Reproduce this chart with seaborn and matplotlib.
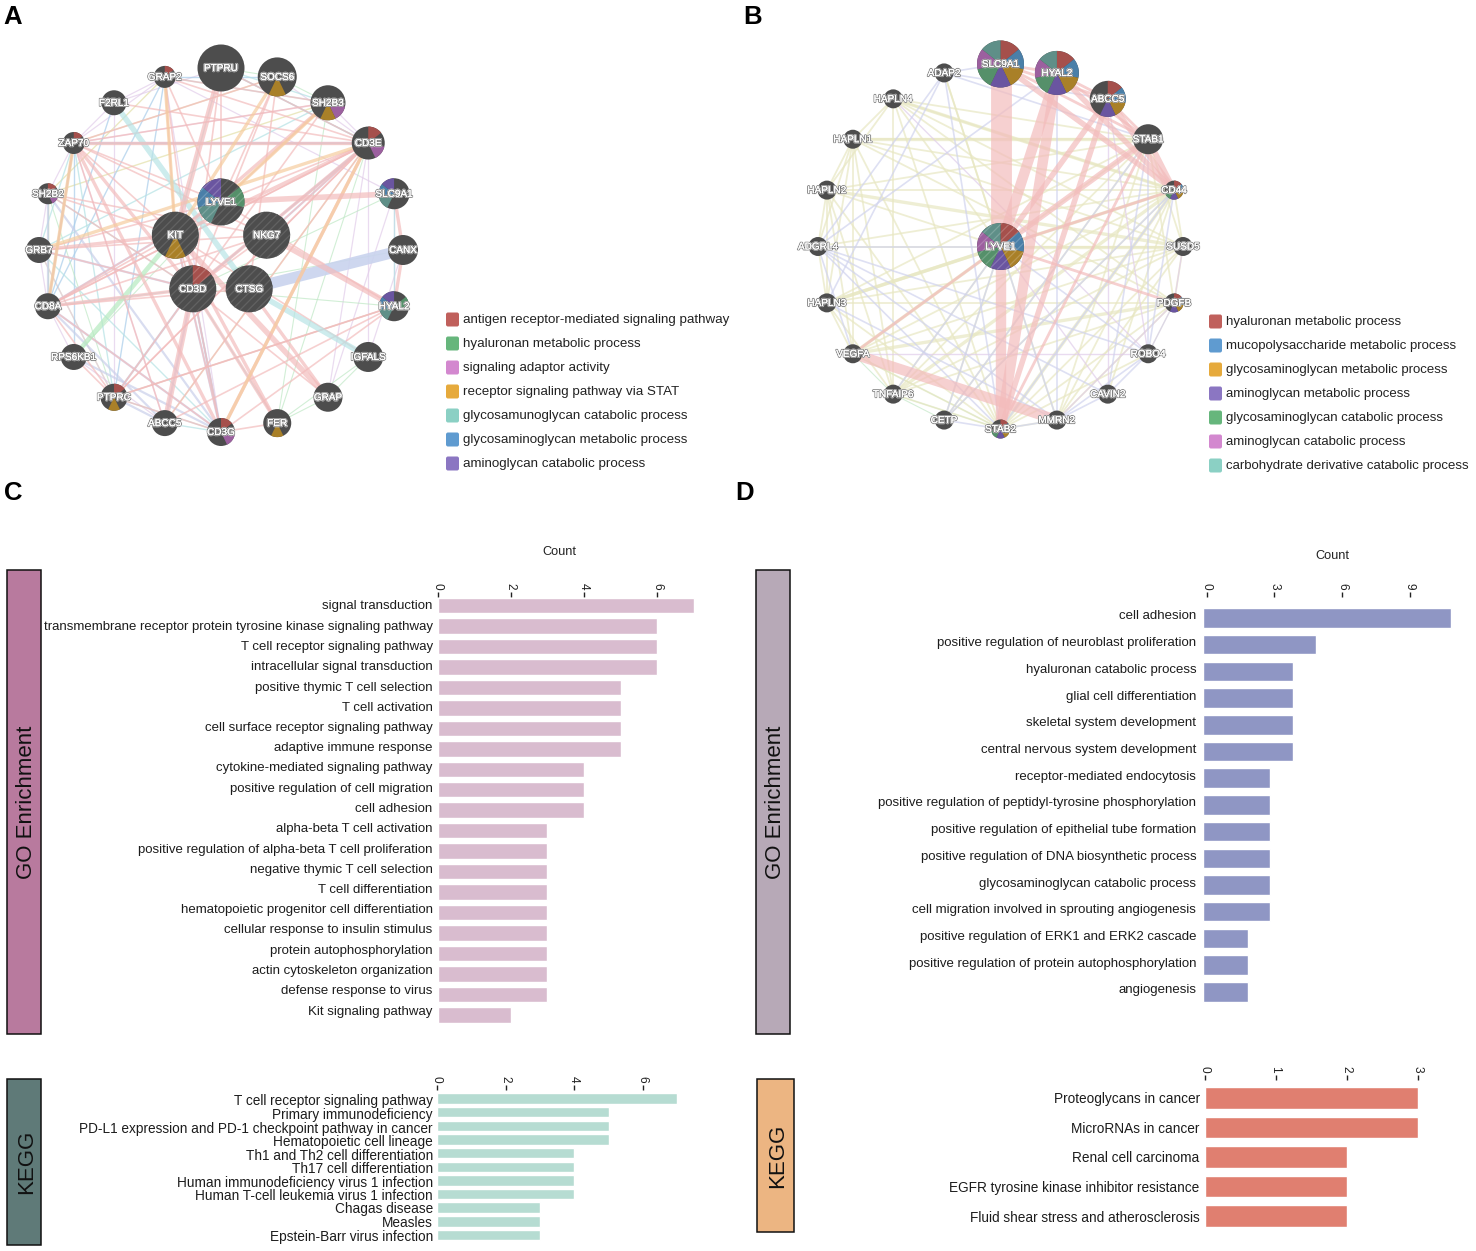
import numpy as np
import matplotlib
matplotlib.use('Agg')
import matplotlib.pyplot as plt
import matplotlib.patheffects as pe
from matplotlib.patches import Circle, Wedge, Rectangle, FancyBboxPatch
import seaborn as sns

W, H = 1476, 1251

# ---------- panel A network ----------
ring_a = ['PTPRU', 'SOCS6', 'SH2B3', 'CD3E', 'SLC9A1', 'CANX', 'HYAL2', 'IGFALS', 'GRAP', 'FER',
          'CD3G', 'ABCC5', 'PTPRC', 'RPS6KB1', 'CD8A', 'GRB7', 'SH2B2', 'ZAP70', 'F2RL1', 'GRAP2']
ring_a_size = [23.5, 19.5, 17.5, 16.5, 15.5, 15, 15, 15, 14.5, 14, 14, 13, 13.5, 13, 13, 13, 10.5, 11, 12.5, 11]
core_a = ['LYVE1', 'NKG7', 'CTSG', 'CD3D', 'KIT']
terms_a = ['antigen receptor-mediated signaling pathway', 'hyaluronan metabolic process',
           'signaling adaptor activity', 'receptor signaling pathway via STAT',
           'glycosamunoglycan catabolic process', 'glycosaminoglycan metabolic process',
           'aminoglycan catabolic process']
# which term slots each gene belongs to
slots_a = {'SOCS6': [3], 'SH2B3': [2, 3], 'CD3E': [0, 2], 'SLC9A1': [4, 5, 6], 'HYAL2': [1, 4, 5, 6],
           'CD3G': [0, 2], 'PTPRC': [0, 3], 'SH2B2': [0, 2], 'ZAP70': [0], 'GRAP2': [0], 'FER': [3],
           'LYVE1': [1, 4, 5, 6], 'CD3D': [0], 'KIT': [3]}
pink_a_thick = 'SLC9A1-LYVE1 NKG7-HYAL2 PTPRU-KIT CD3D-ABCC5 KIT-GRAP'
pink_a_mid = ('SLC9A1-CANX CANX-HYAL2 SH2B3-KIT CD3E-KIT CD3E-CD3D ZAP70-CD3E ZAP70-CD3G ZAP70-CD3D GRB7-KIT '
              'KIT-FER CTSG-GRAP CD3E-CD3G CD8A-CD3D CD3D-FER')
pink_a_thin = ('CD8A-CD3E SH2B2-KIT PTPRC-HYAL2 ABCC5-HYAL2 ZAP70-KIT SH2B2-CD3D GRAP2-CD3D PTPRC-CD3G '
               'CD8A-KIT CD8A-LYVE1 CD8A-NKG7 RPS6KB1-PTPRC CD8A-CD3G PTPRU-LYVE1 SOCS6-LYVE1 SH2B3-LYVE1 '
               'SH2B3-CD3D CD3E-LYVE1 CD3E-NKG7 CD3E-PTPRC CD3E-ABCC5 ZAP70-SH2B3 ZAP70-CD8A GRAP2-CD3E '
               'GRAP2-KIT F2RL1-CD3E CD8A-PTPRC PTPRC-CD3D CD3D-GRAP LYVE1-KIT KIT-CD3D NKG7-CD3D HYAL2-CD3G '
               'ZAP70-SOCS6 ZAP70-NKG7 ZAP70-ABCC5 ZAP70-LYVE1 SH2B2-NKG7 GRB7-LYVE1 GRB7-NKG7 GRB7-CD3D '
               'GRAP2-LYVE1 GRAP2-SH2B3 PTPRU-CD3D PTPRU-CD3E SOCS6-CD3D SOCS6-CTSG CD3E-CD8A CD3E-PTPRC '
               'CD8A-CTSG CD3G-KIT CD3G-CD3D IGFALS-KIT HYAL2-LYVE1 HYAL2-PTPRC FER-CD3G')
orange_a = 'SOCS6-KIT GRAP2-KIT CD3E-CD3G SH2B3-LYVE1 ZAP70-CD8A GRB7-CD3E'
teal_a_thick = 'F2RL1-CTSG CTSG-IGFALS'
teal_a_thin = ('GRB7-SH2B3 ZAP70-CD3E PTPRU-CD3E SH2B3-GRAP2 PTPRC-CD3G ABCC5-CD3G CD8A-CD3D ZAP70-PTPRC '
               'SH2B2-CD3D CD3D-FER GRB7-CD3G CD3E-CD3D PTPRU-KIT SLC9A1-HYAL2 PTPRU-SH2B3 ZAP70-GRB7')
lav_a_thick = 'CANX-CTSG'
lav_a_thin = ('ZAP70-CD3E CD8A-CD3G ABCC5-CD3D PTPRC-CD3D CD3D-CD3G KIT-CD3G ZAP70-CD8A SH2B2-CD3G '
              'GRB7-CD3D SH2B2-CD8A NKG7-CD3E PTPRC-ABCC5 CD8A-ABCC5 LYVE1-CD8A RPS6KB1-CD3G CD3D-CD3E')
green_a_thick = 'KIT-RPS6KB1'
green_a_thin = ('PTPRC-HYAL2 SLC9A1-CD3D FER-IGFALS HYAL2-CD3D ZAP70-CD8A SH2B2-PTPRC SOCS6-SH2B3 PTPRU-SOCS6 '
                'CD3E-FER FER-GRAP GRAP-IGFALS SH2B3-FER CD8A-SH2B2 RPS6KB1-LYVE1 CANX-CD3D')
purple_a = ('ZAP70-ABCC5 SH2B2-ZAP70 F2RL1-ZAP70 GRAP2-F2RL1 GRAP2-ZAP70 SH2B2-GRB7 GRB7-CD8A CD8A-RPS6KB1 '
            'RPS6KB1-ABCC5 IGFALS-CD3E GRAP-SLC9A1 CANX-IGFALS SOCS6-CD3E ZAP70-SH2B3 GRAP2-SLC9A1 SH2B3-CD3E '
            'CD3G-GRAP2 PTPRC-F2RL1 HYAL2-SLC9A1 F2RL1-PTPRU GRAP-CD3E GRB7-PTPRC')
blue_a = 'GRAP2-PTPRC ZAP70-RPS6KB1 GRAP2-CD8A F2RL1-CD8A SOCS6-GRAP2 PTPRU-CD3E CD3D-CD3G'
khaki_a = 'GRAP2-SH2B2 SH2B3-SH2B2 ZAP70-CD3E SOCS6-ZAP70 GRB7-PTPRC SH2B2-CD8A CD3D-CD3G CD3D-PTPRC ABCC5-CD3E'

# ---------- panel B network ----------
ring_b = ['SLC9A1', 'HYAL2', 'ABCC5', 'STAB1', 'CD44', 'SUSD5', 'PDGFB', 'ROBO4', 'CAVIN2', 'MMRN2',
          'STAB2', 'CETP', 'TNFAIP6', 'VEGFA', 'HAPLN3', 'ADGRL4', 'HAPLN2', 'HAPLN1', 'HAPLN4', 'ADAP2']
ring_b_size = [23.5, 22, 18, 15, 9.5, 9.5, 9.5, 9.5, 9.5, 9.5, 9.5, 9.5, 9.5, 9.5, 9.5, 9.5, 9.5, 9.5, 9.5, 9.5]
terms_b = ['hyaluronan metabolic process', 'mucopolysaccharide metabolic process',
           'glycosaminoglycan metabolic process', 'aminoglycan metabolic process',
           'glycosaminoglycan catabolic process', 'aminoglycan catabolic process',
           'carbohydrate derivative catabolic process']
slots_b = {'SLC9A1': [0, 1, 2, 3, 4, 5, 6], 'HYAL2': [0, 1, 2, 3, 4, 5, 6], 'ABCC5': [0, 1, 2, 3],
           'LYVE1': [0, 1, 2, 3, 4, 5, 6], 'CD44': [0, 1, 2, 3, 4], 'PDGFB': [0, 1, 2, 3], 'STAB2': [0, 1, 2, 3, 4]}
pink_b_widest = 'SLC9A1-LYVE1'
pink_b_thick = 'LYVE1-STAB2 HYAL2-LYVE1 HYAL2-STAB2 VEGFA-MMRN2'
pink_b_mid = ('ABCC5-LYVE1 ABCC5-STAB2 STAB1-LYVE1 SLC9A1-CD44 HYAL2-CD44 ABCC5-CD44 '
              'STAB1-CD44')
pink_b_thin = ('STAB1-STAB2 HYAL2-STAB1 SLC9A1-HYAL2 HYAL2-ABCC5 LYVE1-PDGFB VEGFA-LYVE1 ABCC5-STAB1 '
               'SLC9A1-ABCC5 SLC9A1-STAB1 LYVE1-CD44')
khaki_b_mid = ('HAPLN3-LYVE1 HAPLN2-SUSD5 LYVE1-SUSD5 CD44-STAB2 VEGFA-PDGFB TNFAIP6-CD44 HAPLN1-STAB1 '
               'LYVE1-VEGFA HAPLN3-CD44 HAPLN4-CD44')
khaki_b_thin = ('HAPLN4-HAPLN1 HAPLN4-HAPLN2 HAPLN4-SUSD5 HAPLN4-PDGFB HAPLN4-STAB2 HAPLN4-TNFAIP6 HAPLN4-CD44 '
                'HAPLN4-LYVE1 HAPLN1-HAPLN2 HAPLN1-HAPLN3 HAPLN1-CD44 HAPLN1-SUSD5 HAPLN1-STAB2 HAPLN1-TNFAIP6 '
                'HAPLN1-ADGRL4 HAPLN1-PDGFB HAPLN1-VEGFA HAPLN2-HAPLN3 HAPLN2-CD44 HAPLN2-STAB1 HAPLN2-STAB2 '
                'HAPLN2-ADGRL4 HAPLN2-LYVE1 HAPLN2-TNFAIP6 HAPLN2-VEGFA HAPLN3-ADGRL4 HAPLN3-STAB1 HAPLN3-SUSD5 '
                'HAPLN3-PDGFB HAPLN3-STAB2 HAPLN3-VEGFA HAPLN3-TNFAIP6 TNFAIP6-STAB1 TNFAIP6-SUSD5 TNFAIP6-STAB2 '
                'TNFAIP6-LYVE1 VEGFA-CD44 VEGFA-SUSD5 VEGFA-STAB1 VEGFA-STAB2 CETP-LYVE1 CETP-STAB1 CETP-CD44 '
                'STAB2-SUSD5 STAB2-PDGFB STAB2-MMRN2 MMRN2-CD44 MMRN2-SUSD5 MMRN2-STAB1 MMRN2-PDGFB CD44-SUSD5 '
                'SUSD5-PDGFB STAB1-SUSD5 PDGFB-STAB1 ADGRL4-CD44 ADGRL4-SUSD5 HAPLN1-STAB1 HAPLN4-STAB1 '
                'ADAP2-MMRN2 ADAP2-LYVE1 LYVE1-CD44 STAB2-ROBO4 CAVIN2-CD44 TNFAIP6-PDGFB')
lav_b = ('ADAP2-STAB1 ADAP2-HAPLN3 ADAP2-ADGRL4 ADAP2-STAB2 ADGRL4-HYAL2 ADGRL4-LYVE1 ADGRL4-ROBO4 ADGRL4-MMRN2 '
         'ADGRL4-CAVIN2 ADGRL4-STAB2 HAPLN3-MMRN2 LYVE1-MMRN2 LYVE1-ROBO4 LYVE1-CETP LYVE1-TNFAIP6 STAB1-CETP '
         'CD44-STAB2 CD44-CETP ROBO4-MMRN2 ROBO4-CAVIN2 CAVIN2-MMRN2 MMRN2-STAB2 STAB2-CETP ROBO4-STAB1 '
         'CAVIN2-STAB1 MMRN2-HYAL2 ADAP2-SLC9A1 ABCC5-ADAP2 ROBO4-CD44 ADGRL4-VEGFA')
purple_b = 'PDGFB-MMRN2 PDGFB-ROBO4 SUSD5-PDGFB LYVE1-CAVIN2 VEGFA-ROBO4 HAPLN4-ROBO4 CAVIN2-ABCC5 ROBO4-ABCC5'
green_b = 'ROBO4-PDGFB TNFAIP6-VEGFA TNFAIP6-STAB2 CETP-TNFAIP6 VEGFA-STAB2'

# ---------- GO / KEGG bars ----------
c_go = ['signal transduction', 'transmembrane receptor protein tyrosine kinase signaling pathway',
        'T cell receptor signaling pathway', 'intracellular signal transduction',
        'positive thymic T cell selection', 'T cell activation', 'cell surface receptor signaling pathway',
        'adaptive immune response', 'cytokine-mediated signaling pathway', 'positive regulation of cell migration',
        'cell adhesion', 'alpha-beta T cell activation', 'positive regulation of alpha-beta T cell proliferation',
        'negative thymic T cell selection', 'T cell differentiation', 'hematopoietic progenitor cell differentiation',
        'cellular response to insulin stimulus', 'protein autophosphorylation', 'actin cytoskeleton organization',
        'defense response to virus', 'Kit signaling pathway']
c_go_count = [7, 6, 6, 6, 5, 5, 5, 5, 4, 4, 4, 3, 3, 3, 3, 3, 3, 3, 3, 3, 2]
c_kegg = ['T cell receptor signaling pathway', 'Primary immunodeficiency',
          'PD-L1 expression and PD-1 checkpoint pathway in cancer', 'Hematopoietic cell lineage',
          'Th1 and Th2 cell differentiation', 'Th17 cell differentiation',
          'Human immunodeficiency virus 1 infection', 'Human T-cell leukemia virus 1 infection',
          'Chagas disease', 'Measles', 'Epstein-Barr virus infection']
c_kegg_count = [7, 5, 5, 5, 4, 4, 4, 4, 3, 3, 3]
d_go = ['cell adhesion', 'positive regulation of neuroblast proliferation', 'hyaluronan catabolic process',
        'glial cell differentiation', 'skeletal system development', 'central nervous system development',
        'receptor-mediated endocytosis', 'positive regulation of peptidyl-tyrosine phosphorylation',
        'positive regulation of epithelial tube formation', 'positive regulation of DNA biosynthetic process',
        'glycosaminoglycan catabolic process', 'cell migration involved in sprouting angiogenesis',
        'positive regulation of ERK1 and ERK2 cascade', 'positive regulation of protein autophosphorylation',
        'angiogenesis']
d_go_count = [11, 5, 4, 4, 4, 4, 3, 3, 3, 3, 3, 3, 2, 2, 2]
d_kegg = ['Proteoglycans in cancer', 'MicroRNAs in cancer', 'Renal cell carcinoma',
          'EGFR tyrosine kinase inhibitor resistance', 'Fluid shear stress and atherosclerosis']
d_kegg_count = [3, 3, 2, 2, 2]

sns.set_theme(style='white')
plt.rcParams['font.family'] = ['Liberation Sans', 'DejaVu Sans']
plt.rcParams['hatch.linewidth'] = 0.9

fig = plt.figure(figsize=(W / 100, H / 100), dpi=100)
canvas = fig.add_axes([0, 0, 1, 1])
canvas.set_xlim(0, W)
canvas.set_ylim(H, 0)
canvas.axis('off')

NODE = '#4d4d4d'
STRIPE = '#626262'
slot_a_col = ['#a5504c', '#55906a', '#9c609f', '#a98028', '#5f8f88', '#4a7fa8', '#6a55a0']
slot_b_col = ['#a5504c', '#4a7fa8', '#a98028', '#6a55a0', '#55906a', '#9c609f', '#5f8f88']
leg_a_col = ['#c0605c', '#66b67c', '#d388cf', '#e6aa3c', '#8bd0c4', '#5f9bd0', '#8b76c2']
leg_b_col = ['#c0605c', '#5f9bd0', '#e6aa3c', '#8b76c2', '#66b67c', '#d388cf', '#8bd0c4']


def ring_layout(names, cx, cy, r):
    pos = {}
    for i, n in enumerate(names):
        t = np.deg2rad(i * 360 / len(names))
        pos[n] = (cx + r * np.sin(t), cy - r * np.cos(t))
    return pos


def draw_edges(pos, edges, color, lw, alpha=0.7):
    for e in edges.split():
        a, b = e.split('-')
        canvas.plot([pos[a][0], pos[b][0]], [pos[a][1], pos[b][1]], color=color, lw=lw, alpha=alpha,
                    solid_capstyle='butt', zorder=2)


def draw_node(name, xy, r, slots, cols, query=False):
    hatch = '////' if query else None
    canvas.add_patch(Circle(xy, r, fc=NODE, ec=STRIPE, lw=0, hatch=hatch, zorder=3))
    for s in slots:
        # slots run clockwise from 12 o'clock, y axis is flipped
        th0 = -90 + s * 360 / 7
        canvas.add_patch(Wedge(xy, r, th0, th0 + 360 / 7, fc=cols[s], ec='#ffffff30' if query else 'none', lw=0,
                               hatch=hatch, zorder=4))
    txt = canvas.text(xy[0], xy[1], name, color='white', fontsize=7.2, ha='center', va='center', zorder=6)
    txt.set_path_effects([pe.Stroke(linewidth=1.7, foreground='#d8d8d8'), pe.Stroke(linewidth=1.0, foreground=NODE),
                          pe.Stroke(linewidth=0.3, foreground='white'), pe.Normal()])


def draw_legend(terms, cols, x, y0, fs):
    for i, (t, c) in enumerate(zip(terms, cols)):
        y = y0 + i * 24
        canvas.add_patch(FancyBboxPatch((x + 2, y - 5), 9, 10, boxstyle='round,pad=2', fc=c, ec='none', zorder=3))
        canvas.text(x + 17, y, t, fontsize=fs, color='#222222', va='center', ha='left')


# panel A
pos_a = ring_layout(ring_a, 221, 250, 182)
pos_a.update(ring_layout(core_a, 221, 250, 48))
draw_edges(pos_a, khaki_a, '#e3e0a8', 1.0)
draw_edges(pos_a, purple_a, '#e2cdea', 0.9)
draw_edges(pos_a, blue_a, '#a9cdea', 1.0)
draw_edges(pos_a, green_a_thin, '#bfe8c5', 0.8)
draw_edges(pos_a, teal_a_thin, '#b4e2e4', 1.0)
draw_edges(pos_a, lav_a_thin, '#c9cfea', 1.6)
draw_edges(pos_a, pink_a_thin, '#f3bcbc', 1.2)
draw_edges(pos_a, teal_a_thick, '#b8e4e6', 4.0)
draw_edges(pos_a, green_a_thick, '#b6ebc0', 3.4)
draw_edges(pos_a, lav_a_thick, '#c9d3ee', 8.0, alpha=0.9)
draw_edges(pos_a, pink_a_mid, '#f3bcbc', 2.4)
draw_edges(pos_a, orange_a, '#f6cd9e', 2.4)
draw_edges(pos_a, pink_a_thick, '#f3bcbc', 4.0)
for n, r in zip(ring_a, ring_a_size):
    draw_node(n, pos_a[n], r, slots_a.get(n, []), slot_a_col)
for n in core_a:
    draw_node(n, pos_a[n], 23.5, slots_a.get(n, []), slot_a_col, query=True)
draw_legend(terms_a, leg_a_col, 446, 319.5, 9.62)

# panel B
pos_b = ring_layout(ring_b, 1000.5, 246.5, 182.5)
pos_b['LYVE1'] = (1000.5, 246.5)
draw_edges(pos_b, green_b, '#c5e8c8', 0.8)
draw_edges(pos_b, khaki_b_thin, '#e8e7c2', 1.3)
draw_edges(pos_b, khaki_b_mid, '#e8e7c2', 2.4)
draw_edges(pos_b, purple_b, '#e0cdea', 1.0)
draw_edges(pos_b, lav_b, '#d0d3ee', 1.2)
draw_edges(pos_b, pink_b_thin, '#f3bcbc', 2.0)
draw_edges(pos_b, pink_b_mid, '#f3bcbc', 4.0)
draw_edges(pos_b, pink_b_thick, '#f3bcbc', 7.5)
draw_edges(pos_b, pink_b_widest, '#f3bcbc', 15.0)
for n, r in zip(ring_b, ring_b_size):
    draw_node(n, pos_b[n], r, slots_b.get(n, []), slot_b_col)
draw_node('LYVE1', pos_b['LYVE1'], 23.5, slots_b['LYVE1'], slot_b_col, query=True)
draw_legend(terms_b, leg_b_col, 1209, 321.5, 9.56)

for letter, x, y in [('A', 3, 24), ('B', 743, 24), ('C', 4, 500), ('D', 735, 500)]:
    canvas.text(x, y, letter, fontsize=18.5, fontweight='bold', color='black', ha='left', va='baseline')


def side_strip(x0, x1, y0, y1, color, label, fs=16):
    canvas.add_patch(Rectangle((x0, y0), x1 - x0, y1 - y0, fc=color, ec='#111111', lw=1.1, zorder=3))
    canvas.text((x0 + x1) / 2 + 2.5, (y0 + y1) / 2, label, rotation=90, fontsize=fs, color='#111111',
                ha='center', va='center', zorder=4)


def bar_panel(names, counts, color, zero, unit, first, step, bar_h, top, ticks, fs,
              tick_off=0, lab_first=None, lab_step=None, pad=3.5):
    n = len(names)
    bottom = first + (n - 0.5) * step
    right = zero + unit * (max(counts) + 0.6)
    ax = fig.add_axes([zero / W, 1 - bottom / H, (right - zero) / W, (bottom - top) / H])
    sns.barplot(x=counts, y=names, color=color, saturation=1, width=bar_h / step, orient='h', ax=ax)
    ax.set_xlim(0, (right - zero) / unit)
    ax.set_ylim(n - 0.5, (top - first) / step)
    sns.despine(ax=ax, left=True, bottom=True, top=True, right=True)
    ax.xaxis.tick_top()
    ax.set_xticks(np.array(ticks) + tick_off / unit)
    ax.set_xticklabels(ticks, rotation=-90, fontsize=8.6, color='#222222')
    ax.tick_params(axis='x', length=3.6, width=1.0, color='#222222', pad=1.5, top=True, bottom=False)
    lf = first if lab_first is None else lab_first
    ls = step if lab_step is None else lab_step
    ax.set_yticks([(lf + i * ls - first) / step for i in range(n)])
    ax.set_yticklabels(names, fontsize=fs, color='#1c1c1c')
    ax.tick_params(axis='y', length=0, pad=pad)
    ax.set_xlabel('')
    ax.set_ylabel('')
    ax.patch.set_alpha(0)
    return ax


side_strip(7, 41, 570, 1034, '#b87a9e', 'GO Enrichment')
side_strip(7, 41, 1079, 1245, '#5f7a78', 'KEGG')
side_strip(756, 790, 570, 1034, '#b7a9b7', 'GO Enrichment')
side_strip(757, 794, 1079, 1232, '#ecb582', 'KEGG')

bar_panel(c_go, c_go_count, '#d9bccf', 437.5, 36.6, 605.5, 20.47, 15.5, 597, [0, 2, 4, 6], 9.52,
          lab_first=605, lab_step=20.25)
bar_panel(c_kegg, c_kegg_count, '#b6dcd2', 437, 34.3, 1098.5, 13.65, 10.5, 1090, [0, 2, 4, 6], 9.82,
          lab_first=1100, lab_step=13.5, pad=3)
bar_panel(d_go, d_go_count, '#8f96c4', 1202.5, 22.6, 618, 26.7, 19.5, 597, [0, 3, 6, 9], 9.5, tick_off=4,
          lab_first=615, lab_step=26.7, pad=4.5)
bar_panel(d_kegg, d_kegg_count, '#e07f70', 1204.5, 71, 1098, 29.5, 21.5, 1080, [0, 1, 2, 3], 9.83,
          pad=3.5)

canvas.text(559, 552, 'Count', fontsize=9.2, color='#222222', ha='center', va='center')
canvas.text(1332, 556, 'Count', fontsize=9.2, color='#222222', ha='center', va='center')

fig.savefig('out.png', dpi=100)
